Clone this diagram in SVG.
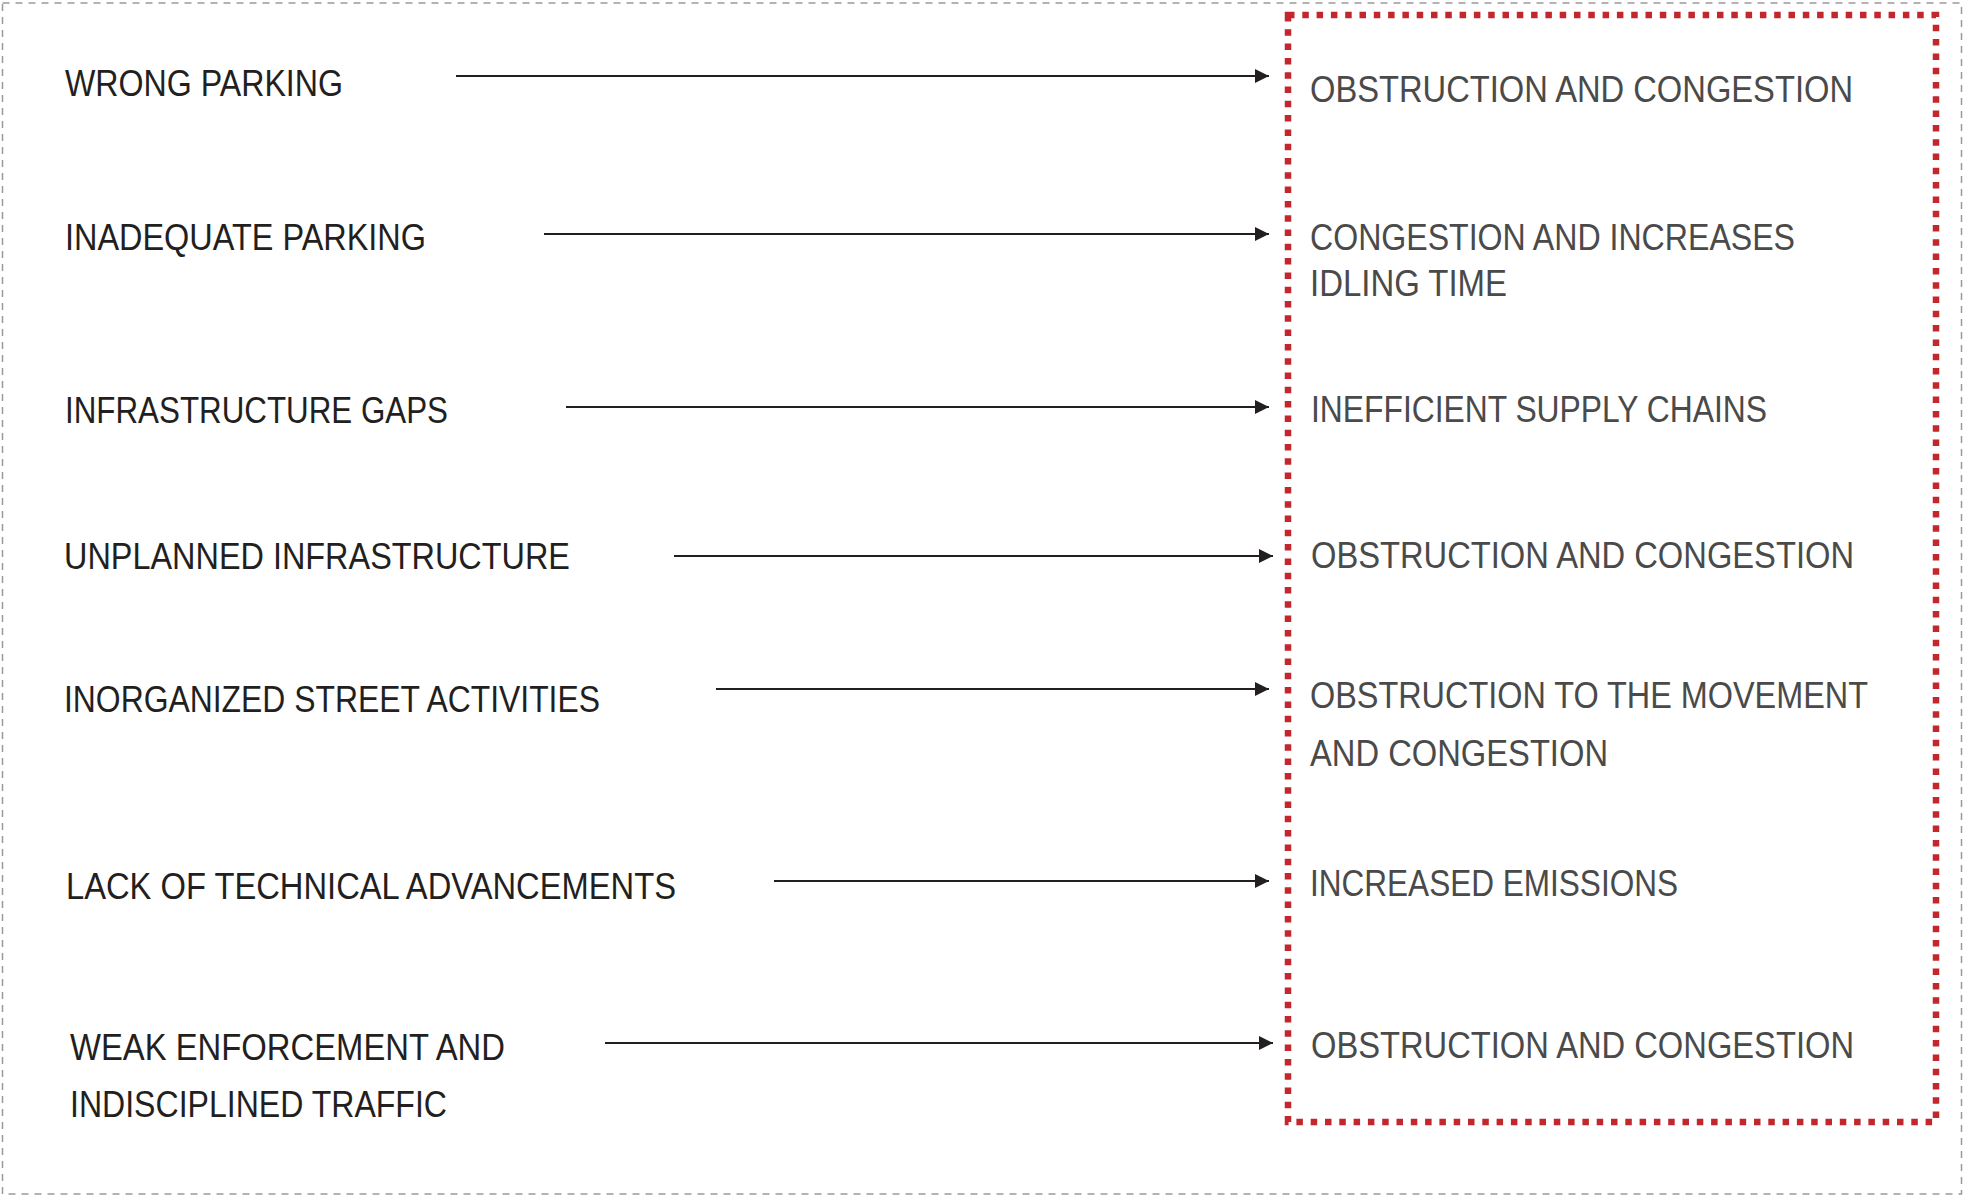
<svg xmlns="http://www.w3.org/2000/svg" width="1964" height="1196" viewBox="0 0 1964 1196">
  <style>
    .cause { font-family: "Liberation Sans", Arial, sans-serif; font-size: 36.5px; fill: #231f20; }
    .effect { font-family: "Liberation Sans", Arial, sans-serif; font-size: 36px; fill: #4a4a4a; }
    .conn { stroke: #231f20; stroke-width: 2; fill: none; marker-end: url(#arrow); }
  </style>
  <defs>
    <marker id="arrow" markerUnits="userSpaceOnUse" markerWidth="15" markerHeight="15" refX="14" refY="7" orient="auto">
      <path d="M0,0 L14,7 L0,14 z" fill="#231f20"/>
    </marker>
  </defs>
  <rect x="0" y="0" width="1964" height="1196" fill="#ffffff"/>
  <rect id="frame" x="2.5" y="3" width="1959" height="1191" fill="none" stroke="#9a9a9a" stroke-width="1.5" stroke-dasharray="7 6"/>
  <rect id="effects-box" x="1288" y="15" width="648" height="1107" fill="none" stroke="#c1272d" stroke-width="6.5" stroke-dasharray="6.5 7.8"/>

  <g id="connectors">
    <line class="conn" x1="456" y1="76" x2="1269" y2="76"/>
    <line class="conn" x1="544" y1="234" x2="1269" y2="234"/>
    <line class="conn" x1="566" y1="407" x2="1269" y2="407"/>
    <line class="conn" x1="674" y1="556" x2="1273" y2="556"/>
    <line class="conn" x1="716" y1="689" x2="1269" y2="689"/>
    <line class="conn" x1="774" y1="881" x2="1269" y2="881"/>
    <line class="conn" x1="605" y1="1043" x2="1273" y2="1043"/>
  </g>

  <g id="cause-1"><text class="cause" x="65" y="96" textLength="278" lengthAdjust="spacingAndGlyphs">WRONG PARKING</text></g>
  <g id="cause-2"><text class="cause" x="65" y="250" textLength="361" lengthAdjust="spacingAndGlyphs">INADEQUATE PARKING</text></g>
  <g id="cause-3"><text class="cause" x="65" y="423" textLength="383" lengthAdjust="spacingAndGlyphs">INFRASTRUCTURE GAPS</text></g>
  <g id="cause-4"><text class="cause" x="64" y="569" textLength="506" lengthAdjust="spacingAndGlyphs">UNPLANNED INFRASTRUCTURE</text></g>
  <g id="cause-5"><text class="cause" x="64" y="712" textLength="536" lengthAdjust="spacingAndGlyphs">INORGANIZED STREET ACTIVITIES</text></g>
  <g id="cause-6"><text class="cause" x="66" y="899" textLength="610" lengthAdjust="spacingAndGlyphs">LACK OF TECHNICAL ADVANCEMENTS</text></g>
  <g id="cause-7">
    <text class="cause" x="70" y="1060" textLength="435" lengthAdjust="spacingAndGlyphs">WEAK ENFORCEMENT AND</text>
    <text class="cause" x="70" y="1117" textLength="377" lengthAdjust="spacingAndGlyphs">INDISCIPLINED TRAFFIC</text>
  </g>

  <g id="effect-1"><text class="effect" x="1310" y="102" textLength="543" lengthAdjust="spacingAndGlyphs">OBSTRUCTION AND CONGESTION</text></g>
  <g id="effect-2">
    <text class="effect" x="1310" y="250" textLength="485" lengthAdjust="spacingAndGlyphs">CONGESTION AND INCREASES</text>
    <text class="effect" x="1310" y="296" textLength="197" lengthAdjust="spacingAndGlyphs">IDLING TIME</text>
  </g>
  <g id="effect-3"><text class="effect" x="1311" y="422" textLength="456" lengthAdjust="spacingAndGlyphs">INEFFICIENT SUPPLY CHAINS</text></g>
  <g id="effect-4"><text class="effect" x="1311" y="568" textLength="543" lengthAdjust="spacingAndGlyphs">OBSTRUCTION AND CONGESTION</text></g>
  <g id="effect-5">
    <text class="effect" x="1310" y="708" textLength="558" lengthAdjust="spacingAndGlyphs">OBSTRUCTION TO THE MOVEMENT</text>
    <text class="effect" x="1310" y="766" textLength="298" lengthAdjust="spacingAndGlyphs">AND CONGESTION</text>
  </g>
  <g id="effect-6"><text class="effect" x="1310" y="896" textLength="368" lengthAdjust="spacingAndGlyphs">INCREASED EMISSIONS</text></g>
  <g id="effect-7"><text class="effect" x="1311" y="1058" textLength="543" lengthAdjust="spacingAndGlyphs">OBSTRUCTION AND CONGESTION</text></g>
</svg>
